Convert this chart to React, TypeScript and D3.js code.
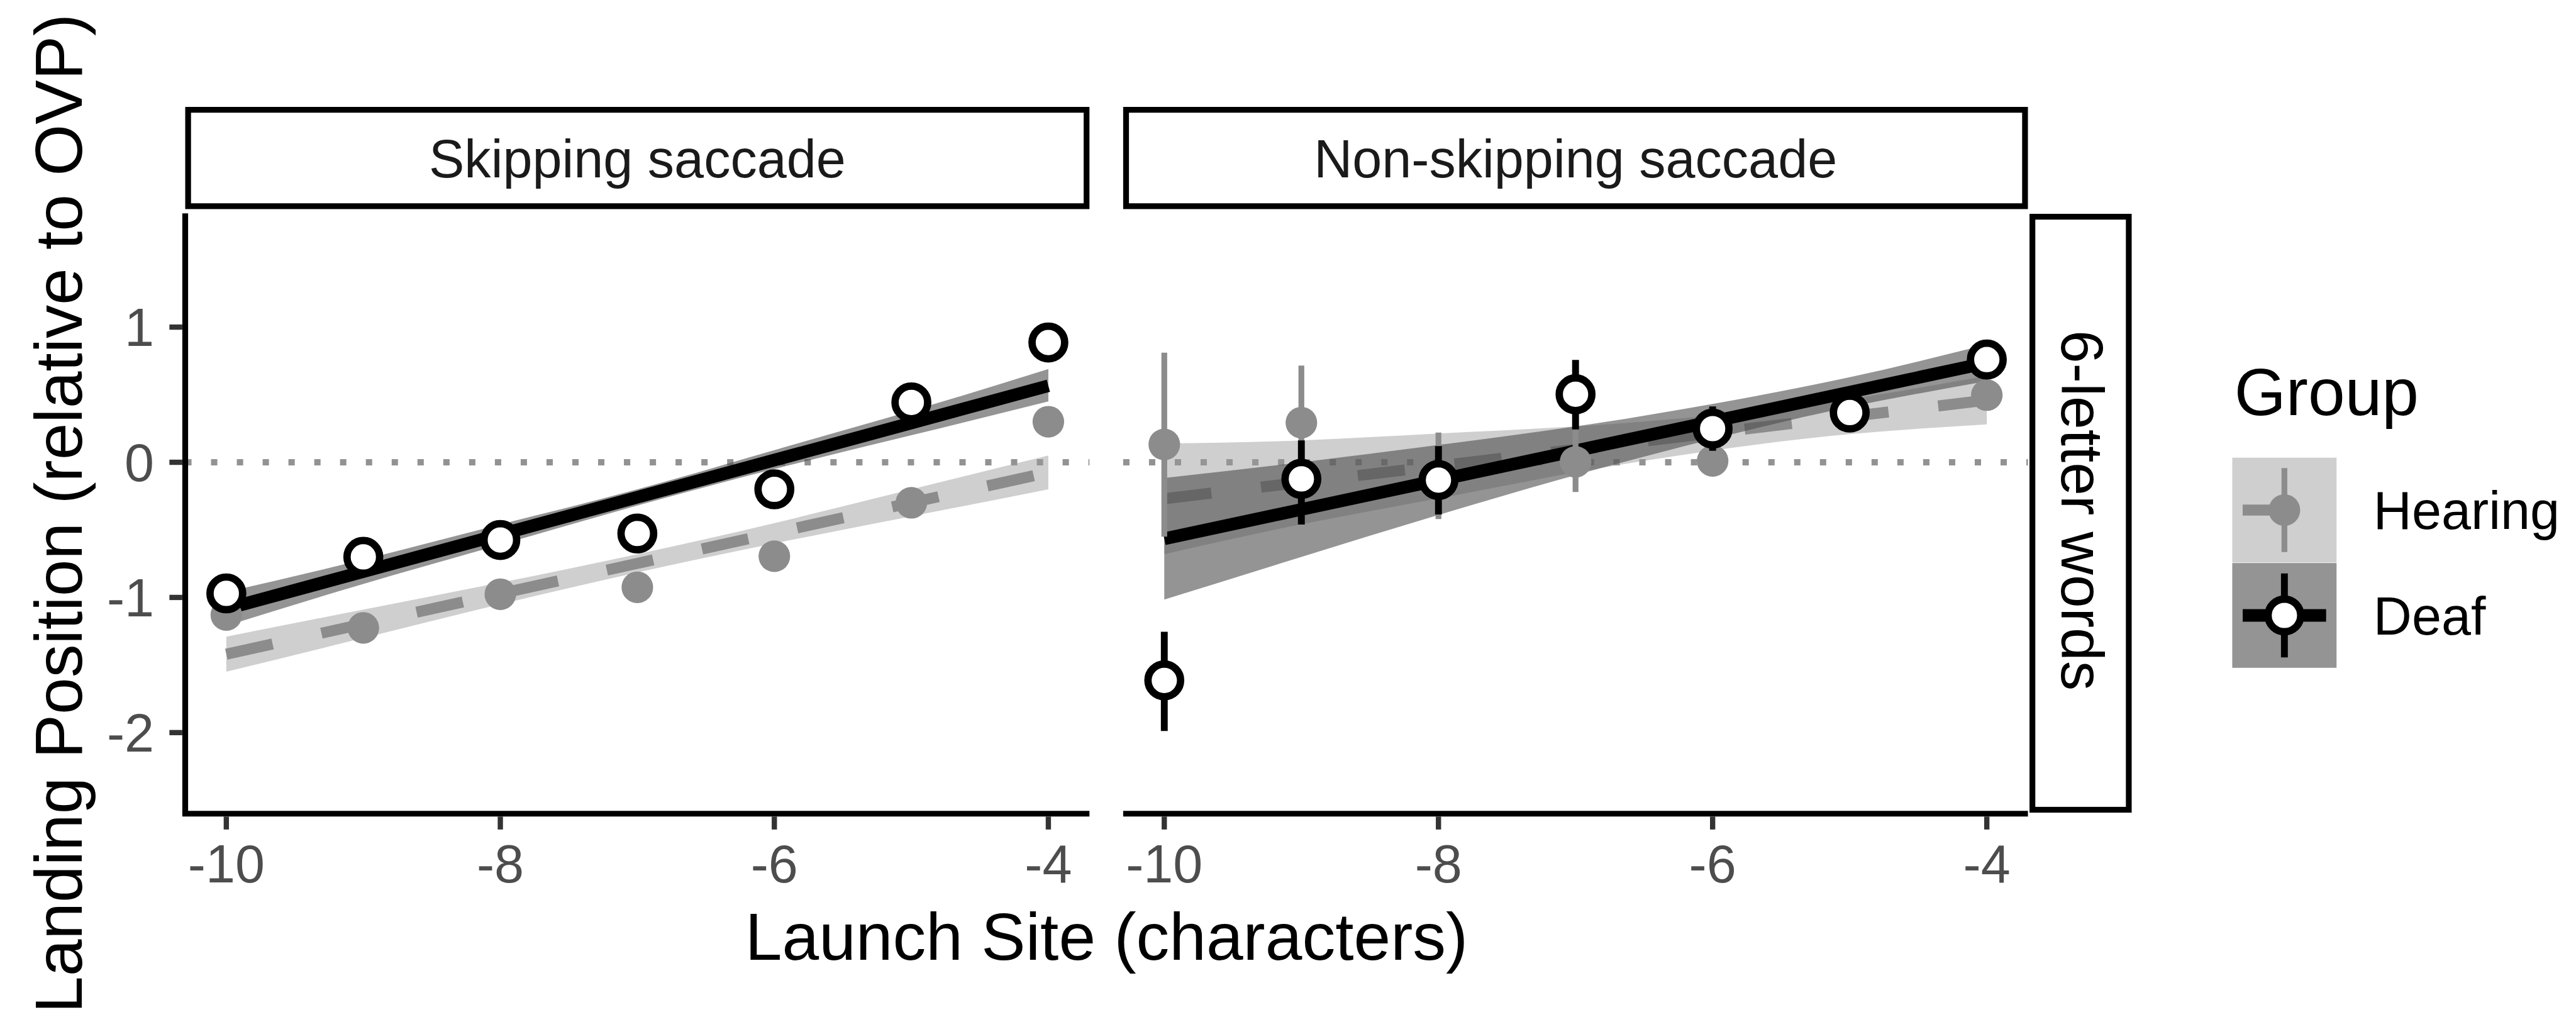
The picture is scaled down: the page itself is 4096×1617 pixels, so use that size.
import React from 'react';
import * as d3 from 'd3';

// ---- data -------------------------------------------------------------
const launchSites = [-10, -9, -8, -7, -6, -5, -4];
const groups = ['Hearing', 'Deaf'];
const panelTitles = ['Skipping saccade', 'Non-skipping saccade'];
const rowTitle = '6-letter words';
const xTicks = [-10, -8, -6, -4];
const yTicks = [-2, -1, 0, 1];

// Skipping saccade: observed means with intervals
const hearingSkipMean = [-1.13, -1.225, -0.976, -0.925, -0.695, -0.3, 0.3];
const hearingSkipLo = [-1.18, -1.28, -1.03, -0.98, -0.75, -0.35, 0.25];
const hearingSkipHi = [-1.08, -1.17, -0.92, -0.87, -0.64, -0.25, 0.35];
const deafSkipMean = [-0.97, -0.7, -0.575, -0.527, -0.2, 0.443, 0.886];
const deafSkipLo = [-1.03, -0.76, -0.63, -0.58, -0.26, 0.38, 0.82];
const deafSkipHi = [-0.91, -0.64, -0.52, -0.47, -0.14, 0.5, 0.95];

// Skipping saccade: linear fits with confidence bands
const hearingSkipFit = [-1.42, -1.196, -0.972, -0.748, -0.523, -0.299, -0.075];
const hearingSkipFitLo = [-1.55, -1.3, -1.05, -0.815, -0.6, -0.4, -0.2];
const hearingSkipFitHi = [-1.29, -1.09, -0.89, -0.68, -0.45, -0.2, 0.05];
const deafSkipFit = [-1.084, -0.809, -0.534, -0.259, 0.016, 0.291, 0.566];
const deafSkipFitLo = [-1.21, -0.9, -0.61, -0.32, -0.05, 0.2, 0.45];
const deafSkipFitHi = [-0.96, -0.72, -0.46, -0.2, 0.09, 0.38, 0.69];

// Non-skipping saccade: observed means with intervals
const hearingNonMean = [0.132, 0.293, -0.1, 0.003, 0.01, 0.36, 0.497];
const hearingNonLo = [-0.55, -0.13, -0.42, -0.22, -0.06, 0.3, 0.43];
const hearingNonHi = [0.811, 0.716, 0.22, 0.24, 0.08, 0.42, 0.56];
const deafNonMean = [-1.614, -0.123, -0.132, 0.503, 0.249, 0.368, 0.76];
const deafNonLo = [-1.988, -0.461, -0.386, 0.243, 0.085, 0.28, 0.69];
const deafNonHi = [-1.254, 0.162, 0.12, 0.757, 0.413, 0.46, 0.83];

// Non-skipping saccade: linear fits with confidence bands
const hearingNonFit = [-0.27, -0.148, -0.027, 0.095, 0.217, 0.338, 0.46];
const hearingNonFitLo = [-0.68, -0.458, -0.267, -0.075, 0.087, 0.208, 0.28];
const hearingNonFitHi = [0.14, 0.162, 0.213, 0.265, 0.347, 0.468, 0.64];
const deafNonFit = [-0.566, -0.349, -0.132, 0.085, 0.302, 0.519, 0.736];
const deafNonFitLo = [-1.016, -0.7, -0.39, -0.095, 0.172, 0.409, 0.6];
const deafNonFitHi = [-0.116, 0.0, 0.128, 0.265, 0.432, 0.629, 0.871];

// ---- assembled series ---------------------------------------------------
type Series = {
  mean: number[]; lo: number[]; hi: number[];
  fit: number[]; fitLo: number[]; fitHi: number[];
};
const panelSeries: { hearing: Series; deaf: Series }[] = [
  {
    hearing: { mean: hearingSkipMean, lo: hearingSkipLo, hi: hearingSkipHi, fit: hearingSkipFit, fitLo: hearingSkipFitLo, fitHi: hearingSkipFitHi },
    deaf: { mean: deafSkipMean, lo: deafSkipLo, hi: deafSkipHi, fit: deafSkipFit, fitLo: deafSkipFitLo, fitHi: deafSkipFitHi },
  },
  {
    hearing: { mean: hearingNonMean, lo: hearingNonLo, hi: hearingNonHi, fit: hearingNonFit, fitLo: hearingNonFitLo, fitHi: hearingNonFitHi },
    deaf: { mean: deafNonMean, lo: deafNonLo, hi: deafNonHi, fit: deafNonFit, fitLo: deafNonFitLo, fitHi: deafNonFitHi },
  },
];

// ---- layout & style -----------------------------------------------------
const VW = 4890;
const VH = 1931;
const FONT = "'Liberation Sans', Arial, Helvetica, sans-serif";
const PANEL_TOP = 405;
const PANEL_BOTTOM = 1545;
const PANELS_X: [number, number][] = [[351, 2068], [2132, 3850]];
const STRIP_TOP = 203;
const STRIP_BOTTOM = 397;
const ROW_STRIP = { x0: 3853, x1: 4047, y0: 406, y1: 1543 };
const BORDER = 11;

const HEAR_COL = '#8c8c8c';
const HEAR_FILL = '#999999';
const HEAR_FILL_OP = 0.47;
const DEAF_FILL = '#4d4d4d';
const DEAF_FILL_OP = 0.6;
const TICK_COL = '#333333';
const TICK_TEXT = '#4d4d4d';

const y = d3.scaleLinear().domain([-2.6, 1.842]).range([PANEL_BOTTOM, PANEL_TOP]);

function Ribbon({ x, lo, hi, fill, op }: any) {
  const area = d3
    .area<number>()
    .x((_, i) => x(launchSites[i]))
    .y0((_, i) => y(lo[i]))
    .y1((_, i) => y(hi[i]))
    .curve(d3.curveNatural);
  return <path d={area(launchSites) || ''} fill={fill} fillOpacity={op} stroke="none" />;
}

function FitLine({ x, values, color, width, dash }: any) {
  const line = d3
    .line<number>()
    .x((_, i) => x(launchSites[i]))
    .y((d) => y(d));
  return (
    <path d={line(values) || ''} fill="none" stroke={color} strokeWidth={width} strokeDasharray={dash} />
  );
}

function PointRanges({ x, s, deaf }: any) {
  return (
    <g>
      {launchSites.map((ls, i) => (
        <line
          key={'e' + ls}
          x1={x(ls)} x2={x(ls)} y1={y(s.lo[i])} y2={y(s.hi[i])}
          stroke={deaf ? '#000' : HEAR_COL}
          strokeWidth={deaf ? 13 : 11}
        />
      ))}
      {launchSites.map((ls, i) =>
        deaf ? (
          <circle key={'p' + ls} cx={x(ls)} cy={y(s.mean[i])} r={31} fill="#fff" stroke="#000" strokeWidth={14} />
        ) : (
          <circle key={'p' + ls} cx={x(ls)} cy={y(s.mean[i])} r={30} fill={HEAR_COL} />
        )
      )}
    </g>
  );
}

function Panel({ idx }: { idx: number }) {
  const [pl, pr] = PANELS_X[idx];
  const x = d3.scaleLinear().domain([-10.3, -3.7]).range([pl, pr]);
  const { hearing, deaf } = panelSeries[idx];
  return (
    <g>
      {/* strip */}
      <rect
        x={pl + BORDER / 2} y={STRIP_TOP + BORDER / 2}
        width={pr - pl - BORDER} height={STRIP_BOTTOM - STRIP_TOP - BORDER}
        fill="#fff" stroke="#000" strokeWidth={BORDER}
      />
      <text x={(pl + pr) / 2} y={337} textAnchor="middle" fontSize={101} fill="#1a1a1a">
        {panelTitles[idx]}
      </text>

      {/* reference line at zero */}
      <line x1={pl} x2={pr} y1={y(0)} y2={y(0)} stroke="#929292" strokeWidth={12} strokeDasharray="12 37" />

      {/* fitted trends */}
      <Ribbon x={x} lo={hearing.fitLo} hi={hearing.fitHi} fill={HEAR_FILL} op={HEAR_FILL_OP} />
      <FitLine x={x} values={hearing.fit} color={HEAR_COL} width={21} dash="90 95" />
      <Ribbon x={x} lo={deaf.fitLo} hi={deaf.fitHi} fill={DEAF_FILL} op={DEAF_FILL_OP} />
      <FitLine x={x} values={deaf.fit} color="#000" width={24} />

      {/* observed means */}
      <PointRanges x={x} s={hearing} deaf={false} />
      <PointRanges x={x} s={deaf} deaf={true} />

      {/* x axis */}
      <line x1={idx === 0 ? pl - 5.5 : pl} x2={pr} y1={PANEL_BOTTOM} y2={PANEL_BOTTOM} stroke="#000" strokeWidth={BORDER} />
      {xTicks.map((t) => (
        <g key={t}>
          <line x1={x(t)} x2={x(t)} y1={PANEL_BOTTOM + 5.5} y2={PANEL_BOTTOM + 30} stroke={TICK_COL} strokeWidth={10} />
          <text x={x(t)} y={1675} textAnchor="middle" fontSize={101} fill={TICK_TEXT}>
            {String(t)}
          </text>
        </g>
      ))}

      {/* y axis on the first panel only */}
      {idx === 0 && (
        <g>
          <line x1={pl} x2={pl} y1={PANEL_TOP} y2={PANEL_BOTTOM} stroke="#000" strokeWidth={BORDER} />
          {yTicks.map((t) => (
            <g key={t}>
              <line x1={pl - 30} x2={pl - 5.5} y1={y(t)} y2={y(t)} stroke={TICK_COL} strokeWidth={10} />
              <text x={292} y={y(t) + 36} textAnchor="end" fontSize={101} fill={TICK_TEXT}>
                {String(t)}
              </text>
            </g>
          ))}
        </g>
      )}
    </g>
  );
}

function Legend() {
  const kx = 4238;
  const kw = 198;
  const kh = 199;
  const keys = [869, 1069];
  const cx = kx + kw / 2;
  return (
    <g>
      <text x={4242} y={788} fontSize={126} fill="#000">Group</text>
      {groups.map((g, i) => {
        const ky = keys[i];
        const cy = ky + kh / 2;
        const isDeaf = g === 'Deaf';
        return (
          <g key={g}>
            <rect x={kx} y={ky} width={kw} height={kh}
              fill={isDeaf ? DEAF_FILL : HEAR_FILL} fillOpacity={isDeaf ? DEAF_FILL_OP : HEAR_FILL_OP} />
            <line x1={kx + kw * 0.1} x2={kx + kw * 0.9} y1={cy} y2={cy}
              stroke={isDeaf ? '#000' : HEAR_COL} strokeWidth={isDeaf ? 24 : 21}
              strokeDasharray={isDeaf ? undefined : '90 95'} />
            <line x1={cx} x2={cx} y1={ky + kh * 0.1} y2={ky + kh * 0.9}
              stroke={isDeaf ? '#000' : HEAR_COL} strokeWidth={isDeaf ? 13 : 11} />
            {isDeaf ? (
              <circle cx={cx} cy={cy} r={31} fill="#fff" stroke="#000" strokeWidth={14} />
            ) : (
              <circle cx={cx} cy={cy} r={30} fill={HEAR_COL} />
            )}
            <text x={4506} y={cy + 36} fontSize={101} fill="#000">{g}</text>
          </g>
        );
      })}
    </g>
  );
}

export default function App() {
  return (
    <svg
      width={4096}
      height={1617}
      viewBox={`0 0 ${VW} ${VH}`}
      style={{ position: 'absolute', left: 0, top: 0, background: '#fff' }}
      fontFamily={FONT}
    >
      <rect x={0} y={0} width={VW} height={VH} fill="#fff" />
      <Panel idx={0} />
      <Panel idx={1} />

      {/* row strip */}
      <rect
        x={ROW_STRIP.x0 + BORDER / 2} y={ROW_STRIP.y0 + BORDER / 2}
        width={ROW_STRIP.x1 - ROW_STRIP.x0 - BORDER} height={ROW_STRIP.y1 - ROW_STRIP.y0 - BORDER}
        fill="#fff" stroke="#000" strokeWidth={BORDER}
      />
      <text
        transform={`translate(3914, ${(PANEL_TOP + PANEL_BOTTOM) / 2 - 6}) rotate(90)`}
        textAnchor="middle" fontSize={113} fill="#000"
      >
        {rowTitle}
      </text>

      {/* axis titles */}
      <text x={(PANELS_X[0][0] + PANELS_X[1][1]) / 2} y={1822} textAnchor="middle" fontSize={126} fill="#000">
        Launch Site (characters)
      </text>
      <text
        transform={`translate(154, ${(PANEL_TOP + PANEL_BOTTOM) / 2}) rotate(-90)`}
        textAnchor="middle" fontSize={126} fill="#000"
      >
        Landing Position (relative to OVP)
      </text>

      <Legend />
    </svg>
  );
}
